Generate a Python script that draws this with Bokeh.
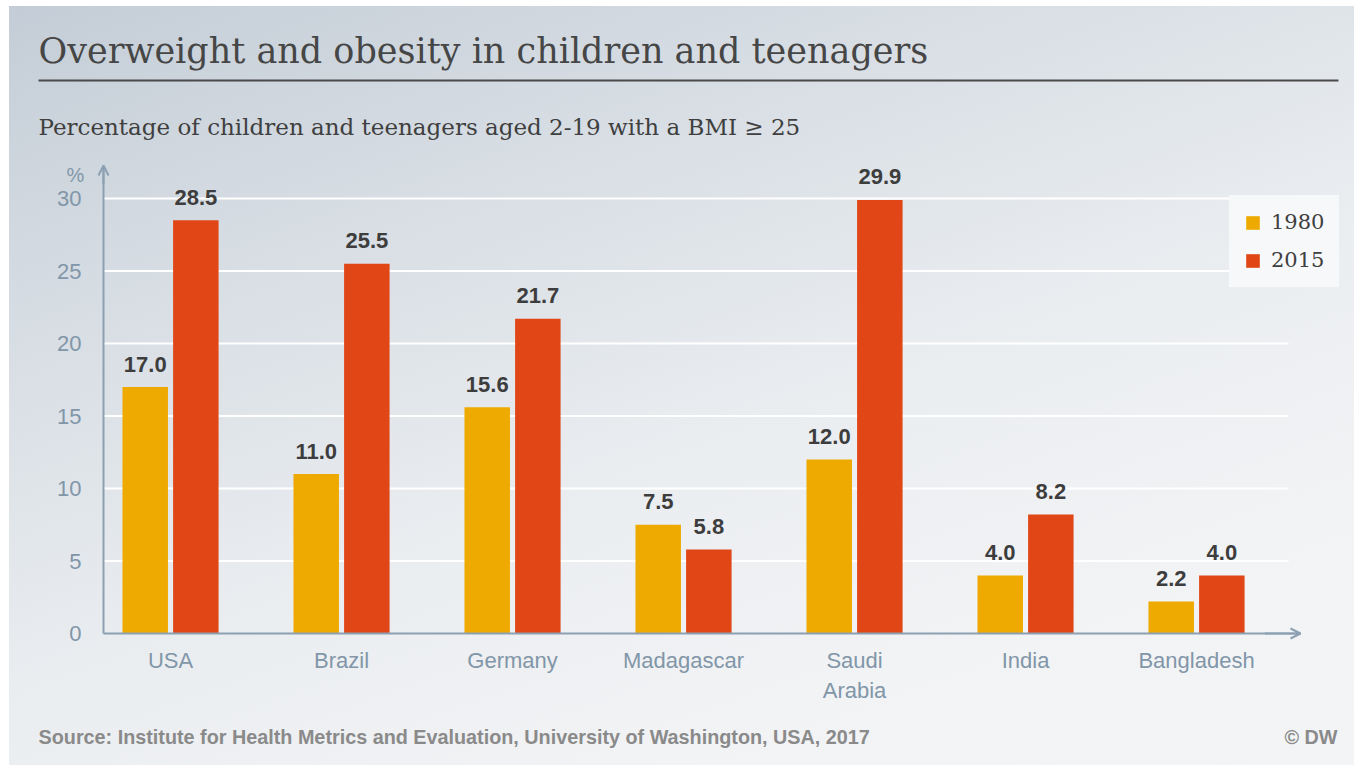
from bokeh.plotting import figure
from bokeh.models import (ColumnDataSource, FixedTicker, Label, Legend, LegendItem,
                          Arrow, OpenHead)
from bokeh.core.properties import value
from bokeh.embed import file_html
from bokeh.resources import INLINE

countries = ["USA", "Brazil", "Germany", "Madagascar", "Saudi\nArabia", "India", "Bangladesh"]
values_1980 = [17.0, 11.0, 15.6, 7.5, 12.0, 4.0, 2.2]
values_2015 = [28.5, 25.5, 21.7, 5.8, 29.9, 8.2, 4.0]
years = ["1980", "2015"]
y_ticks = [0, 5, 10, 15, 20, 25, 30]

title_text = "Overweight and obesity in children and teenagers"
subtitle_text = "Percentage of children and teenagers aged 2-19 with a BMI \u2265 25"
source_text = "Source: Institute for Health Metrics and Evaluation, University of Washington, USA, 2017"

C1980 = "#eeaa00"
C2015 = "#e04616"
AXIS = "#8ca0b2"
TICK = "#8196a8"
LEGEND_BG = "#f7f8fa"
SERIF = "DejaVu Serif"
SANS = "Liberation Sans"

# plotting area limits in data units (axes sit inside one full-page frame)
X0, X1 = -0.392, 6.608
Y0, Y1 = 0, 32.28

idx = list(range(len(countries)))
offset = 0.148
bar_w = 0.266

src = ColumnDataSource(dict(
    x1=[i - offset for i in idx], x2=[i + offset for i in idx],
    v1=values_1980, v2=values_2015,
    t1=[f"{v:.1f}" for v in values_1980], t2=[f"{v:.1f}" for v in values_2015],
))

p = figure(width=1354, height=765, output_backend="svg", toolbar_location=None,
           x_range=(-0.99433, 6.92380), y_range=(-9.10345, 43.6552),
           min_border=0)
p.background_fill_color = None
p.border_fill_color = None
p.outline_line_color = None
p.styles = {
    "background-color": "#ffffff",
    "background-image": "linear-gradient(160deg, #c4cdd7 0%, #d9dfe5 30%, #eaedf0 55%, #f2f3f5 80%, #f3f4f6 100%)",
    "background-position": "9px 6px",
    "background-size": "calc(100% - 9px) calc(100% - 6px)",
    "background-repeat": "no-repeat",
}

# horizontal grid lines
grid_y = [t for t in y_ticks if t > 0]
p.segment(x0=[X0] * len(grid_y), x1=[6.538] * len(grid_y), y0=grid_y, y1=grid_y,
          line_color="#ffffff", line_width=2)

r1 = p.vbar(x="x1", top="v1", width=bar_w, source=src, fill_color=C1980, line_color=None)
r2 = p.vbar(x="x2", top="v2", width=bar_w, source=src, fill_color=C2015, line_color=None)

for xcol, ycol, tcol in (("x1", "v1", "t1"), ("x2", "v2", "t2")):
    p.text(x=xcol, y=ycol, text=tcol, source=src, text_align="center",
           text_baseline="alphabetic", y_offset=-23, text_font=value(SANS),
           text_font_style="bold", text_font_size="22px", text_color="#3d3d3d")

# axes
p.grid.visible = False
p.yaxis.ticker = FixedTicker(ticks=y_ticks)
p.xaxis.ticker = FixedTicker(ticks=idx)
p.xaxis.major_label_overrides = {i: c for i, c in zip(idx, countries)}
p.yaxis.fixed_location = X0
p.xaxis.fixed_location = 0
p.yaxis.bounds = (Y0, Y1)
p.xaxis.bounds = (X0, X1)
for ax in (p.xaxis[0], p.yaxis[0]):
    ax.axis_line_color = AXIS
    ax.axis_line_width = 2
    ax.major_tick_line_color = None
    ax.minor_tick_line_color = None
    ax.major_label_text_color = TICK
    ax.major_label_text_font = SANS
    ax.major_label_text_font_size = "22px"
p.yaxis.major_label_standoff = 16
p.xaxis.major_label_standoff = 8

# arrow heads on the axes
p.add_layout(Arrow(end=OpenHead(size=10, line_color=AXIS, line_width=2),
                   x_start=X0, y_start=31.0, x_end=X0, y_end=Y1,
                   line_color=AXIS, line_width=2))
p.add_layout(Arrow(end=OpenHead(size=10, line_color=AXIS, line_width=2),
                   x_start=6.4, y_start=0, x_end=X1, y_end=0,
                   line_color=AXIS, line_width=2))

p.add_layout(Label(x=-0.556, y=31.6, text="%", text_align="center",
                   text_baseline="alphabetic", text_font=SANS,
                   text_font_size="20px", text_color=TICK))

# heading block
p.add_layout(Label(x=-0.772, y=40.2, text=title_text, text_align="left",
                   text_baseline="alphabetic", text_font=SERIF,
                   text_font_size="35px", text_color="#464646"))
p.segment(x0=[-0.772], x1=[6.83], y0=[38.14], y1=[38.14],
          line_color="#4a4a4a", line_width=2)
p.add_layout(Label(x=-0.772, y=34.9, text=subtitle_text, text_align="left",
                   text_baseline="alphabetic", text_font=SERIF,
                   text_font_size="23px", text_color="#3f3f3f"))

# footer
p.add_layout(Label(x=-0.772, y=-7.15, text=source_text, text_align="left",
                   text_baseline="alphabetic", text_font=SANS, text_font_style="bold",
                   text_font_size="19.8px", text_color="#8a8a8a"))
p.add_layout(Label(x=6.824, y=-7.15, text="\u00a9 DW", text_align="right",
                   text_baseline="alphabetic", text_font=SANS, text_font_style="bold",
                   text_font_size="19.8px", text_color="#8a8a8a"))

# legend box; its border takes the fill colour so the padding is kept
legend = Legend(items=[LegendItem(label=years[0], renderers=[r1]),
                       LegendItem(label=years[1], renderers=[r2])],
                location=(1229, 478), orientation="vertical",
                background_fill_color=LEGEND_BG, background_fill_alpha=1,
                border_line_color=LEGEND_BG, glyph_width=17, glyph_height=17,
                label_text_font=SERIF, label_text_font_size="21px",
                label_text_color="#3f3f3f", spacing=14, padding=14, margin=0,
                label_standoff=10, label_height=24)
p.add_layout(legend, "center")

open("out.html", "w").write(file_html(p, INLINE))
